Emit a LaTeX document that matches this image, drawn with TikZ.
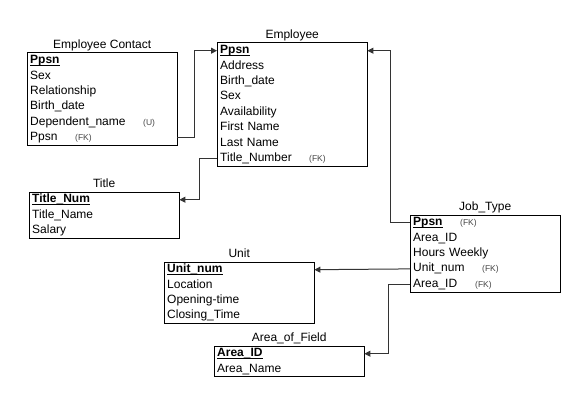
\documentclass[tikz,border=0pt]{standalone}
\usepackage{fontspec}
\setmainfont{Liberation Sans}
\usetikzlibrary{arrows.meta,positioning,fit}
\definecolor{linkgray}{HTML}{333333}
\definecolor{taggray}{HTML}{444444}
\newcommand{\pk}[1]{\underline{\smash{\textbf{#1}}}}
\newcommand{\tagfont}{\fontsize{8.5}{9}\selectfont\color{taggray}}

\begin{document}
\begin{tikzpicture}[
  x=1pt,y=-1pt,
  >={Triangle[length=6pt,width=6pt]},
  field/.style={anchor=north west,text width=144pt,inner xsep=3pt,inner ysep=0pt,
    minimum height=15pt,text height=9pt,text depth=3pt,align=left,
    font=\fontsize{12}{14}\selectfont},
  entity/.style={draw,line width=1pt,inner sep=0pt},
  heading/.style={anchor=base,inner sep=0pt,font=\fontsize{12}{14}\selectfont},
  link/.style={draw=linkgray,line width=1pt,->}
]
  \useasboundingbox (0,0) rectangle (586,401);

  % Employee Contact
  \node[field] (ec1) at (27,53) {\pk{Ppsn}};
  \node[field,below=0pt of ec1] (ec2) {Sex};
  \node[field,below=0pt of ec2] (ec3) {Relationship};
  \node[field,below=0pt of ec3] (ec4) {Birth\_date};
  \node[field,below=0pt of ec4] (ec5) {\makebox[113pt][l]{Dependent\_name}{\tagfont (U)}};
  \node[field,below=0pt of ec5] (ec6) {\makebox[45pt][l]{Ppsn}{\tagfont (FK)}};
  \node[entity,fit=(ec1)(ec6)] (contact) {};
  \node[heading] (contact-name) at ([yshift=4pt]contact.north) {Employee Contact};

  % Employee
  \node[field] (emp1) at (217,43) {\pk{Ppsn}};
  \node[field,below=0pt of emp1] (emp2) {Address};
  \node[field,below=0pt of emp2] (emp3) {Birth\_date};
  \node[field,below=0pt of emp3] (emp4) {Sex};
  \node[field,below=0pt of emp4] (emp5) {Availability};
  \node[field,below=0pt of emp5] (emp6) {First Name};
  \node[field,below=0pt of emp6] (emp7) {Last Name};
  \node[field,below=0pt of emp7] (emp8) {\makebox[89pt][l]{Title\_Number}{\tagfont (FK)}};
  \node[entity,fit=(emp1)(emp8)] (employee) {};
  \node[heading] (employee-name) at ([yshift=4pt]employee.north) {Employee};

  % Title
  \node[field] (title1) at (29,192) {\pk{Title\_Num}};
  \node[field,below=0pt of title1] (title2) {Title\_Name};
  \node[field,below=0pt of title2] (title3) {Salary};
  \node[entity,fit=(title1)(title3)] (title) {};
  \node[heading] (title-name) at ([yshift=4pt]title.north) {Title};

  % Unit
  \node[field] (unit1) at (164,262) {\pk{Unit\_num}};
  \node[field,below=0pt of unit1] (unit2) {Location};
  \node[field,below=0pt of unit2] (unit3) {Opening-time};
  \node[field,below=0pt of unit3] (unit4) {Closing\_Time};
  \node[entity,fit=(unit1)(unit4)] (unit) {};
  \node[heading] (unit-name) at ([yshift=4pt]unit.north) {Unit};

  % Job_Type
  \node[field] (job1) at (410,215) {\makebox[47pt][l]{\pk{Ppsn}}{\tagfont (FK)}};
  \node[field,below=0pt of job1] (job2) {Area\_ID};
  \node[field,below=0pt of job2] (job3) {Hours Weekly};
  \node[field,below=0pt of job3] (job4) {\makebox[69pt][l]{Unit\_num}{\tagfont (FK)}};
  \node[field,below=0pt of job4] (job5) {\makebox[62pt][l]{Area\_ID}{\tagfont (FK)}};
  \node[entity,fit=(job1)(job5)] (job) {};
  \node[heading] (job-name) at ([yshift=4pt]job.north) {Job\_Type};

  % Area_of_Field
  \node[field] (area1) at (214,346) {\pk{Area\_ID}};
  \node[field,below=0pt of area1] (area2) {Area\_Name};
  \node[entity,fit=(area1)(area2)] (area) {};
  \node[heading] (area-name) at ([yshift=4pt]area.north) {Area\_of\_Field};

  % relationships
  \draw[link] (ec6.east) -- ++(17,0) |- (emp1.west);
  \draw[link] (emp8.west) -- ++(-18,0) |- (title1.east);
  \draw[link] (job1.west) -- ++(-20,0) |- (emp1.east);
  \draw[link] (job4.west) -- (unit1.east);
  \draw[link] (job5.west) -- ++(-22,0) |- (area1.east);
\end{tikzpicture}
\end{document}
